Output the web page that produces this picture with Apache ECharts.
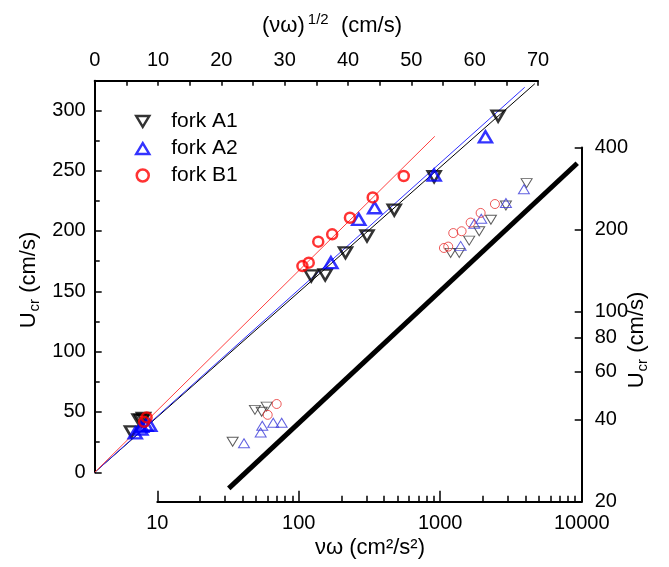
<!DOCTYPE html>
<html>
<head>
<meta charset="utf-8">
<script src="https://cdn.jsdelivr.net/npm/echarts@6.0.0/dist/echarts.min.js"></script>
<style>
html,body{margin:0;padding:0;background:#fff;}
#c{width:669px;height:567px;}
</style>
</head>
<body>
<div id="c"></div>
<script>
const FONT = '"Liberation Sans", Arial, Helvetica, sans-serif';

// ---------- linear panel: x = (νω)^1/2 (cm/s), y = Ucr (cm/s)
const forkA1_lin = [[63.7,295.2],[53.6,244.9],[47.3,217.3],[43.0,195.8],[39.6,181.9],[36.4,163.5],[34.2,162.7],[5.8,33.5],[7.0,43.5],[7.4,43.0],[7.7,44.7]];
const forkA2_lin = [[61.7,278.0],[53.6,246.3],[44.2,219.2],[41.7,209.6],[37.3,173.7],[6.4,32.6],[7.3,35.9],[7.4,38.0],[8.1,39.0],[8.7,39.0]];
const forkB1_lin = [[48.8,245.5],[43.9,227.8],[40.3,210.9],[37.5,197.2],[35.3,191.1],[33.8,173.7],[32.8,170.9],[8.2,45.5],[7.8,41.8]];
const fitA1 = [[0,0],[69.5,322]];
const fitA2 = [[0,0],[67.9,319]];
const fitB1 = [[0,0],[53.7,278.4]];

// ---------- log panel: x = νω (cm²/s²), y = Ucr (cm/s)
const forkA1_log = [[4080,296],[2913,245],[2282,217],[1886,197],[1602,182],[1362,164],[1184,164],[34.1,33.2],[49.0,43.5],[54.7,42.8],[59.3,44.7]];
const forkA2_log = [[3905,281],[2913,250],[1950,219],[1740,210],[1394,174],[41.0,32.8],[53.8,35.9],[55.2,38.0],[66.0,39.0],[75.7,39.0]];
const forkB1_log = [[2436,248],[1930,230],[1640,212],[1416,197],[1236,194],[1139,173],[1062,171],[69.8,45.7],[60.3,41.7]];
const thickLine = [[32,22.4],[9300,350]];

// ---------- ticks
const topTickLabels = [0,10,20,30,40,50,60,70];
const leftTickLabels = [0,50,100,150,200,250,300];
const bottomTickLabels = [10,100,1000,10000];
const bottomMinorTicks = [20,30,40,50,60,70,80,90,200,300,400,500,600,700,800,900,2000,3000,4000,5000,6000,7000,8000,9000];
const rightTickLabels = [20,40,60,80,100,200,400];

const seriesNames = ['fork A1','fork A2','fork B1'];

const chart = echarts.init(document.getElementById('c'), null, {renderer:'canvas'});

const axisLineStyle = {color:'#000', width:2};
const tickStyle = {color:'#000', width:1.5};
const labelStyle = {fontSize:20, color:'#000', fontFamily:FONT};

const richBase = {
  a:{fontSize:22, fontFamily:FONT, fill:'#000'},
  sub:{fontSize:15, fontFamily:FONT, fill:'#000', padding:[11,0,0,1]},
  sup:{fontSize:15, fontFamily:FONT, fill:'#000', padding:[0,0,13,3]}
};

const DOWN_TRI = 'path://M0,0L12,0L6,10Z';
const UP_TRI = 'path://M6,0L12,10L0,10Z';

const option = {
  animation:false,
  backgroundColor:'#fff',
  grid:[
    {left:94.7, top:80.7, width:443.3, height:391.6, containLabel:false, outerBoundsMode:'none'},
    {left:157.3, top:147.5, width:424.4, height:354.2, containLabel:false, outerBoundsMode:'none'}
  ],
  legend:{
    data:[
      {name:seriesNames[0], icon:DOWN_TRI, itemStyle:{color:'rgba(0,0,0,0)', borderColor:'#000', borderWidth:2.5}},
      {name:seriesNames[1], icon:UP_TRI, itemStyle:{color:'rgba(0,0,0,0)', borderColor:'#0000ff', borderWidth:2.5}},
      {name:seriesNames[2], icon:'circle', itemStyle:{color:'rgba(0,0,0,0)', borderColor:'#ff0000', borderWidth:2.5}}
    ],
    orient:'vertical',
    left:130, top:106,
    itemWidth:13, itemHeight:12, itemGap:6,
    symbolKeepAspect:true,
    selectedMode:false,
    textStyle:{fontSize:21, color:'#000', fontFamily:FONT, padding:[0,0,0,17]}
  },
  xAxis:[
    {
      gridIndex:0, type:'value', position:'top', min:0, max:70, interval:10,
      axisLine:{show:true, onZero:false, lineStyle:axisLineStyle},
      axisTick:{show:true, inside:true, length:5, lineStyle:tickStyle},
      minorTick:{show:true, splitNumber:2, length:5, lineStyle:tickStyle},
      axisLabel:Object.assign({margin:10, formatter:v => topTickLabels.indexOf(v) >= 0 ? String(v) : ''}, labelStyle),
      splitLine:{show:false}
    },
    {
      gridIndex:1, type:'log', logBase:10, position:'bottom', min:10, max:10000,
      axisLine:{show:true, onZero:false, lineStyle:axisLineStyle},
      axisTick:{show:true, inside:true, length:11, lineStyle:tickStyle, customValues:bottomTickLabels},
      axisLabel:Object.assign({margin:12, customValues:bottomTickLabels, formatter:v => String(Math.round(v))}, labelStyle),
      splitLine:{show:false}
    },
    {
      gridIndex:1, type:'log', logBase:10, position:'bottom', min:10, max:10000,
      axisLine:{show:false, onZero:false},
      axisTick:{show:true, inside:true, length:6, lineStyle:tickStyle, customValues:bottomMinorTicks},
      axisLabel:{show:false},
      splitLine:{show:false}
    }
  ],
  yAxis:[
    {
      gridIndex:0, type:'value', position:'left', min:0, max:324.5, interval:50,
      axisLine:{show:true, onZero:false, lineStyle:axisLineStyle},
      axisTick:{show:true, inside:true, length:7, lineStyle:tickStyle},
      minorTick:{show:true, splitNumber:2, length:5, lineStyle:tickStyle},
      axisLabel:Object.assign({margin:9, formatter:v => leftTickLabels.indexOf(v) >= 0 ? String(v) : ''}, labelStyle),
      splitLine:{show:false}
    },
    {
      gridIndex:1, type:'log', logBase:10, position:'right', min:20, max:400,
      axisLine:{show:true, onZero:false, lineStyle:axisLineStyle},
      axisTick:{show:true, inside:true, length:7, lineStyle:tickStyle, customValues:rightTickLabels},
      axisLabel:Object.assign({margin:13, customValues:rightTickLabels, formatter:v => String(Math.round(v))}, labelStyle),
      splitLine:{show:false}
    }
  ],
  series:[
    // fit lines (linear panel)
    {type:'line', xAxisIndex:0, yAxisIndex:0, data:fitA1, symbol:'none', silent:true, z:1, lineStyle:{color:'#000', width:1}},
    {type:'line', xAxisIndex:0, yAxisIndex:0, data:fitA2, symbol:'none', silent:true, z:1, lineStyle:{color:'#3030ff', width:1}},
    {type:'line', xAxisIndex:0, yAxisIndex:0, data:fitB1, symbol:'none', silent:true, z:1, lineStyle:{color:'#ff4040', width:1}},
    // thick line (log panel)
    {type:'line', xAxisIndex:1, yAxisIndex:1, data:thickLine, symbol:'none', silent:true, z:1, lineStyle:{color:'#000', width:5}},
    // log panel points (thin)
    {name:'A1 log', type:'scatter', xAxisIndex:1, yAxisIndex:1, data:forkA1_log, symbol:'triangle', symbolRotate:180, symbolSize:[11,9], z:3,
      itemStyle:{color:'rgba(0,0,0,0)', borderColor:'#333', borderWidth:1}},
    {name:'A2 log', type:'scatter', xAxisIndex:1, yAxisIndex:1, data:forkA2_log, symbol:'triangle', symbolSize:[11,9], z:3,
      itemStyle:{color:'rgba(0,0,0,0)', borderColor:'#3a3ad8', borderWidth:1}},
    {name:'B1 log', type:'scatter', xAxisIndex:1, yAxisIndex:1, data:forkB1_log, symbol:'circle', symbolSize:9, z:3,
      itemStyle:{color:'rgba(0,0,0,0)', borderColor:'#e83030', borderWidth:1}},
    // linear panel points (bold)
    {name:'fork A1', type:'scatter', xAxisIndex:0, yAxisIndex:0, data:forkA1_lin, symbol:'triangle', symbolRotate:180, symbolSize:[13,11], z:4,
      itemStyle:{color:'rgba(0,0,0,0)', borderColor:'#000', borderWidth:2.5}},
    {name:'fork A2', type:'scatter', xAxisIndex:0, yAxisIndex:0, data:forkA2_lin, symbol:'triangle', symbolSize:[13,11], z:4,
      itemStyle:{color:'rgba(0,0,0,0)', borderColor:'#0000ff', borderWidth:2.5}},
    {name:'fork B1', type:'scatter', xAxisIndex:0, yAxisIndex:0, data:forkB1_lin, symbol:'circle', symbolSize:10, z:4,
      itemStyle:{color:'rgba(0,0,0,0)', borderColor:'#ff0000', borderWidth:2.5}}
  ],
  graphic:[
    {type:'text', x:332, y:26, z:10,
      style:{text:'{a|(νω)}{sup|1/2}{a|  (cm/s)}', rich:richBase, align:'center', verticalAlign:'middle'}},
    {type:'text', x:29, y:280, rotation:Math.PI/2, z:10,
      style:{text:'{a|U}{sub|cr}{a| (cm/s)}', rich:richBase, align:'center', verticalAlign:'middle'}},
    {type:'text', x:637, y:340, rotation:Math.PI/2, z:10,
      style:{text:'{a|U}{sub|cr}{a| (cm/s)}', rich:richBase, align:'center', verticalAlign:'middle'}},
    {type:'text', x:370, y:548, z:10,
      style:{text:'{a|νω (cm²/s²)}', rich:richBase, align:'center', verticalAlign:'middle'}}
  ]
};

chart.setOption(option);
</script>
</body>
</html>
